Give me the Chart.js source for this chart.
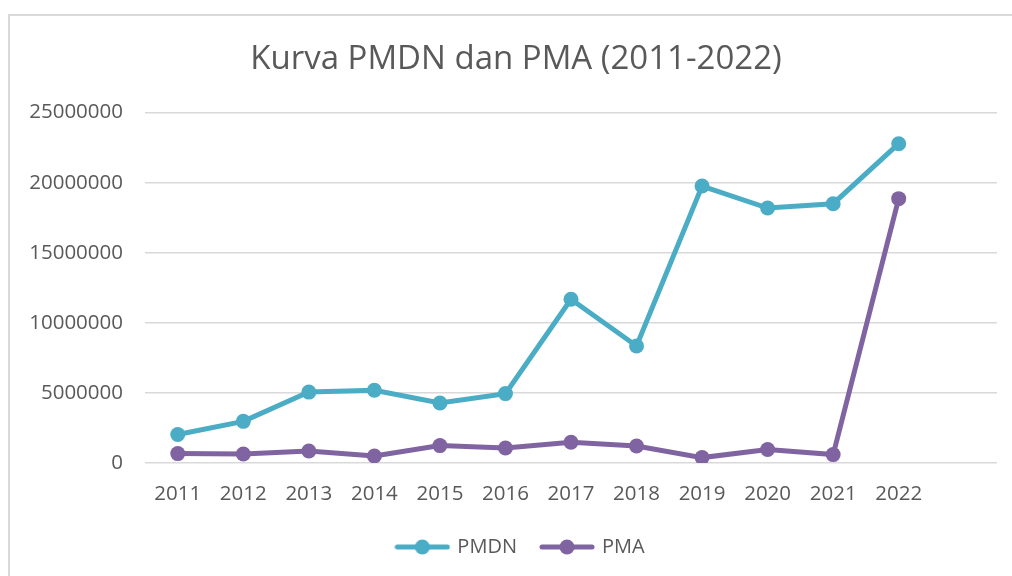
<!DOCTYPE html>
<html>
<head>
<meta charset="utf-8">
<script src="https://cdn.jsdelivr.net/npm/chart.js@4.4.1/dist/chart.umd.min.js"></script>
<style>
  html, body { margin: 0; padding: 0; background: #ffffff; }
  #wrap { position: relative; width: 1012px; height: 576px; }
</style>
</head>
<body>
<div id="wrap"><canvas id="c" width="1012" height="576"></canvas></div>
<script>
// ---- Data ----
const years = ['2011','2012','2013','2014','2015','2016','2017','2018','2019','2020','2021','2022'];
const xLabels = years.concat(['']); // extra empty category slot at the right of the axis
const pmdn = [2030000, 2970000, 5060000, 5190000, 4280000, 4950000, 11680000, 8350000, 19760000, 18190000, 18500000, 22780000];
const pma  = [670000, 640000, 860000, 500000, 1240000, 1070000, 1480000, 1210000, 385000, 960000, 600000, 18860000];
const yTicks = [0, 5000000, 10000000, 15000000, 20000000, 25000000];
const titleText = 'Kurva PMDN dan PMA (2011-2022)';
const seriesNames = ['PMDN', 'PMA'];

// ---- Styles ----
const colPMDN = '#4BACC6';
const colPMA = '#8064A2';
const textCol = '#595959';
const gridCol = '#D9D9D9';
const FONT = "'Open Sans', sans-serif";

function legendIcon(color) {
  const cv = document.createElement('canvas');
  cv.width = 56; cv.height = 16;
  const g = cv.getContext('2d');
  g.strokeStyle = color; g.lineWidth = 5; g.lineCap = 'round';
  g.beginPath(); g.moveTo(3, 8); g.lineTo(53, 8); g.stroke();
  g.fillStyle = color;
  g.beginPath(); g.arc(28, 8, 7.5, 0, Math.PI * 2); g.fill();
  return cv;
}
const icons = [legendIcon(colPMDN), legendIcon(colPMA)];

const framePlugin = {
  id: 'frame',
  afterLayout(chart) {
    // centre title and legend over the whole chart frame rather than the canvas
    if (chart.titleBlock) chart.titleBlock.left = 35;
    if (chart.legend) chart.legend.left = 45;
  },
  beforeDraw(chart) {
    const ctx = chart.ctx;
    ctx.save();
    ctx.strokeStyle = gridCol;
    ctx.lineWidth = 2;
    ctx.beginPath();
    ctx.moveTo(9, 576); ctx.lineTo(9, 15); ctx.lineTo(1012, 15);
    ctx.stroke();
    ctx.restore();
  }
};

Chart.defaults.font.family = FONT;
Chart.defaults.color = textCol;

new Chart(document.getElementById('c'), {
  type: 'line',
  data: {
    labels: xLabels,
    datasets: [
      { label: seriesNames[0], data: pmdn, borderColor: colPMDN, backgroundColor: colPMDN,
        pointBackgroundColor: colPMDN, borderWidth: 5, pointRadius: 7.5, pointBorderWidth: 0, tension: 0 },
      { label: seriesNames[1], data: pma, borderColor: colPMA, backgroundColor: colPMA,
        pointBackgroundColor: colPMA, borderWidth: 5, pointRadius: 7.5, pointBorderWidth: 0, tension: 0 }
    ]
  },
  options: {
    responsive: false,
    animation: false,
    layout: { padding: { left: 0, right: 15, top: 0, bottom: 9 } },
    plugins: {
      title: {
        display: true, text: titleText, color: textCol,
        font: { size: 33, weight: 'normal', family: FONT },
        padding: { top: 40, bottom: 33 }
      },
      legend: {
        display: true, position: 'bottom',
        labels: {
          usePointStyle: true, pointStyleWidth: 50, padding: 25,
          color: textCol, font: { size: 20, family: FONT },
          generateLabels(chart) {
            return chart.data.datasets.map((ds, i) => ({
              text: ds.label, pointStyle: icons[i], fillStyle: ds.borderColor,
              strokeStyle: ds.borderColor, lineWidth: 0, datasetIndex: i, hidden: false, fontColor: textCol
            }));
          }
        }
      },
      tooltip: { enabled: false }
    },
    scales: {
      x: {
        offset: true,
        afterFit(scale) { scale.height = 49; },
        grid: { display: false, drawTicks: false },
        border: { display: false },
        ticks: { color: textCol, font: { size: 20.5, family: FONT }, padding: 19, maxRotation: 0, autoSkip: false }
      },
      y: {
        min: 0, max: 25000000,
        afterBuildTicks(scale) { scale.ticks = yTicks.map(v => ({ value: v })); },
        afterFit(scale) { scale.width = 145; },
        grid: { color: gridCol, lineWidth: 1.5, drawTicks: false },
        border: { display: false },
        ticks: { color: textCol, font: { size: 20.5, family: FONT }, padding: 22, callback: v => String(v) }
      }
    }
  },
  plugins: [framePlugin]
});
</script>
</body>
</html>
